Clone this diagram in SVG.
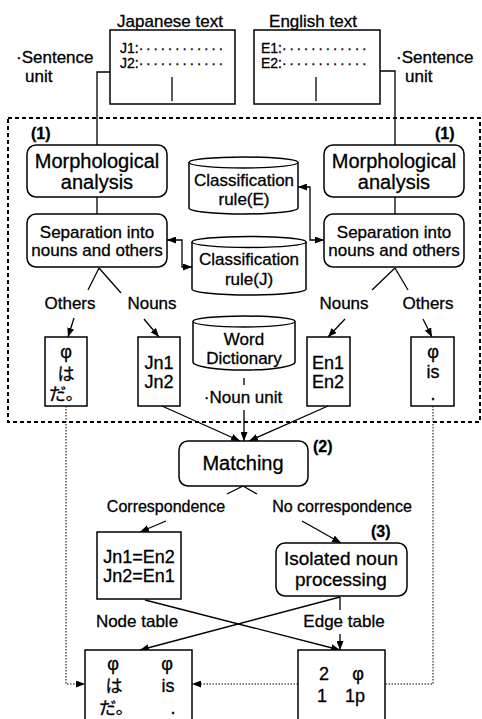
<svg xmlns="http://www.w3.org/2000/svg" width="482" height="719" viewBox="0 0 482 719">
<style>
text{font-family:"Liberation Sans",Arial,"Noto Sans CJK JP",sans-serif;fill:#000;stroke:#000;stroke-width:0.3}
.t17{font-size:17px}
.t18{font-size:18px}
.t20{font-size:20px}
.t19{font-size:19px}
.t16{font-size:16px}
.t14{font-size:14px}
.b{font-weight:bold;font-size:16px}
.c{text-anchor:middle}
.box{fill:#fff;stroke:#000;stroke-width:1.5}
.ln{fill:none;stroke:#000;stroke-width:1.3}
.dot{fill:none;stroke:#000;stroke-width:1;stroke-dasharray:1.5 1.5}
.dash{fill:none;stroke:#000;stroke-width:2;stroke-dasharray:4 3}
</style>
<defs>
<marker id="ah" markerUnits="userSpaceOnUse" markerWidth="9" markerHeight="7" refX="9" refY="3.5" orient="auto-start-reverse">
<path d="M0,0 L9,3.5 L0,7 z" fill="#000"/>
</marker>
</defs>

<rect class="dash" x="8" y="118" width="472" height="304"/>

<g id="connectors">
<polyline class="ln" points="110,72 97,72 97,145"/>
<polyline class="ln" points="380,71 395,71 395,145"/>
<line class="ln" x1="97" y1="197" x2="97" y2="214"/>
<line class="ln" x1="395" y1="197" x2="395" y2="214"/>
<polyline class="ln" points="167,240 182,240 182,267 192,267" marker-start="url(#ah)" marker-end="url(#ah)"/>
<polyline class="ln" points="298,187 310,187 310,240 324,240" marker-start="url(#ah)" marker-end="url(#ah)"/>
<line class="ln" x1="99" y1="268" x2="88" y2="290"/>
<line class="ln" x1="99" y1="268" x2="121" y2="293"/>
<line class="ln" x1="395" y1="268" x2="372" y2="290"/>
<line class="ln" x1="395" y1="268" x2="408" y2="290"/>
<line class="ln" x1="74" y1="318" x2="68" y2="337" marker-end="url(#ah)"/>
<line class="ln" x1="144" y1="319" x2="159" y2="337" marker-end="url(#ah)"/>
<line class="ln" x1="345" y1="319" x2="328" y2="337" marker-end="url(#ah)"/>
<line class="ln" x1="423" y1="319" x2="432" y2="337" marker-end="url(#ah)"/>
<line class="ln" x1="244" y1="378" x2="244" y2="385"/>
<line class="ln" x1="244" y1="410" x2="244" y2="441" marker-end="url(#ah)"/>
<line class="ln" x1="162" y1="406" x2="240" y2="441" marker-end="url(#ah)"/>
<line class="ln" x1="328" y1="406" x2="249" y2="441" marker-end="url(#ah)"/>
<line class="ln" x1="243" y1="486" x2="227" y2="494"/>
<line class="ln" x1="243" y1="486" x2="257" y2="494"/>
<line class="ln" x1="166" y1="521" x2="140" y2="532" marker-end="url(#ah)"/>
<line class="ln" x1="302" y1="521" x2="341" y2="543" marker-end="url(#ah)"/>
<line class="ln" x1="145" y1="600" x2="340" y2="650" marker-end="url(#ah)"/>
<line class="ln" x1="340" y1="597" x2="140" y2="650" marker-end="url(#ah)"/>
<line class="ln" x1="340" y1="597" x2="340" y2="610"/>
<line class="ln" x1="340" y1="634" x2="340" y2="650" marker-end="url(#ah)"/>
<polyline class="dot" points="66,406 66,684 85,684" marker-end="url(#ah)"/>
<polyline class="dot" points="433,406 433,684 385,684"/>
<line class="dot" x1="298" y1="684" x2="192" y2="684" marker-end="url(#ah)"/>
</g>

<g id="japanese-text">
<text class="t17 c" x="170" y="27">Japanese text</text>
<rect class="box" x="110" y="30" width="125" height="74"/>
<text class="t14" x="120" y="53">J1:<tspan letter-spacing="2.6">············</tspan></text>
<text class="t14" x="120" y="68">J2:<tspan letter-spacing="2.6">············</tspan></text>
<line class="ln" x1="172" y1="77" x2="172" y2="101"/>
</g>

<g id="english-text">
<text class="t17 c" x="313" y="27">English text</text>
<rect class="box" x="254" y="30" width="126" height="74"/>
<text class="t14" x="261" y="53">E1:<tspan letter-spacing="2.6">············</tspan></text>
<text class="t14" x="261" y="68">E2:<tspan letter-spacing="2.6">············</tspan></text>
<line class="ln" x1="316" y1="77" x2="316" y2="101"/>
</g>

<g id="sentence-unit-left">
<text class="t17" x="16" y="63">·Sentence</text>
<text class="t17" x="25" y="82">unit</text>
</g>
<g id="sentence-unit-right">
<text class="t17" x="396" y="63">·Sentence</text>
<text class="t17" x="405" y="82">unit</text>
</g>

<g id="label-1-left"><text class="b" x="31" y="139">(1)</text></g>
<g id="label-1-right"><text class="b" x="435" y="139">(1)</text></g>

<g id="morph-left">
<rect class="box" x="27" y="145" width="140" height="52" rx="9"/>
<text class="t20 c" x="97" y="168">Morphological</text>
<text class="t20 c" x="97" y="189">analysis</text>
</g>
<g id="morph-right">
<rect class="box" x="324" y="145" width="140" height="52" rx="9"/>
<text class="t20 c" x="394" y="168">Morphological</text>
<text class="t20 c" x="394" y="189">analysis</text>
</g>

<g id="sep-left">
<rect class="box" x="27" y="214" width="140" height="53" rx="9"/>
<text class="t17 c" x="97" y="238">Separation into</text>
<text class="t17 c" x="97" y="256">nouns and others</text>
</g>
<g id="sep-right">
<rect class="box" x="324" y="214" width="140" height="53" rx="9"/>
<text class="t17 c" x="394" y="238">Separation into</text>
<text class="t17 c" x="394" y="256">nouns and others</text>
</g>

<g id="rule-e">
<path class="box" d="M189,162.5 L189,208 A54.5,6 0 0 0 298,208 L298,162.5 A54.5,5.5 0 0 0 189,162.5 Z"/>
<path class="ln" d="M189,162.5 A54.5,5.5 0 0 0 298,162.5"/>
<text class="t17 c" x="244" y="186">Classification</text>
<text class="t17 c" x="244" y="205">rule(E)</text>
</g>
<g id="rule-j">
<path class="box" d="M192,242 L192,289 A57,6 0 0 0 306,289 L306,242 A57,5.5 0 0 0 192,242 Z"/>
<path class="ln" d="M192,242 A57,5.5 0 0 0 306,242"/>
<text class="t17 c" x="249" y="265">Classification</text>
<text class="t17 c" x="249" y="285">rule(J)</text>
</g>
<g id="word-dictionary">
<path class="box" d="M193,321.5 L193,362 A51,8 0 0 0 295,362 L295,321.5 A51,5.5 0 0 0 193,321.5 Z"/>
<path class="ln" d="M193,321.5 A51,5.5 0 0 0 295,321.5"/>
<text class="t17 c" x="244" y="345">Word</text>
<text class="t17 c" x="244" y="364">Dictionary</text>
</g>

<g id="labels-split">
<text class="t17 c" x="70" y="309">Others</text>
<text class="t17 c" x="152" y="309">Nouns</text>
<text class="t17 c" x="344" y="309">Nouns</text>
<text class="t17 c" x="428" y="309">Others</text>
</g>

<g id="others-j">
<rect class="box" x="45" y="337" width="42" height="69"/>
<text class="t18 c" x="66" y="358">φ</text>
<text class="t17 c" x="66" y="380">は</text>
<text class="t17 c" x="66" y="400">だ。</text>
</g>
<g id="nouns-j">
<rect class="box" x="138" y="337" width="42" height="69"/>
<text class="t18 c" x="159" y="369">Jn1</text>
<text class="t18 c" x="159" y="388">Jn2</text>
</g>
<g id="nouns-e">
<rect class="box" x="307" y="337" width="43" height="69"/>
<text class="t18 c" x="328" y="369">En1</text>
<text class="t18 c" x="328" y="388">En2</text>
</g>
<g id="others-e">
<rect class="box" x="411" y="337" width="43" height="69"/>
<text class="t18 c" x="433" y="358">φ</text>
<text class="t18 c" x="433" y="378">is</text>
<text class="t18 c" x="433" y="400">.</text>
</g>

<g id="noun-unit"><text class="t17 c" x="243" y="403">·Noun unit</text></g>

<g id="matching">
<rect class="box" x="179" y="441" width="129" height="45" rx="9"/>
<text class="t20 c" x="243" y="470">Matching</text>
</g>
<g id="label-2"><text class="b" x="313" y="452">(2)</text></g>

<g id="labels-corr">
<text class="t16 c" x="166" y="512">Correspondence</text>
<text class="t16 c" x="342" y="512">No correspondence</text>
</g>

<g id="correspondence-box">
<rect class="box" x="97" y="532" width="84" height="67"/>
<text class="t18 c" x="139" y="563">Jn1=En2</text>
<text class="t18 c" x="139" y="582">Jn2=En1</text>
</g>

<g id="label-3"><text class="b" x="371" y="537">(3)</text></g>
<g id="isolated">
<rect class="box" x="276" y="543" width="131" height="53" rx="9"/>
<text class="t19 c" x="341" y="565">Isolated noun</text>
<text class="t19 c" x="341" y="586">processing</text>
</g>

<g id="labels-tables">
<text class="t17 c" x="137" y="627">Node table</text>
<text class="t17 c" x="344" y="627">Edge table</text>
</g>

<g id="node-table">
<rect class="box" x="85" y="650" width="107" height="80"/>
<text class="t18 c" x="113" y="670">φ</text>
<text class="t17 c" x="114" y="692">は</text>
<text class="t17 c" x="116" y="714">だ。</text>
<text class="t18 c" x="167" y="670">φ</text>
<text class="t18 c" x="168" y="692">is</text>
<text class="t18 c" x="173" y="714">.</text>
</g>
<g id="edge-table">
<rect class="box" x="298" y="650" width="87" height="80"/>
<text class="t18 c" x="324" y="680">2</text>
<text class="t18 c" x="358" y="680">φ</text>
<text class="t18 c" x="322" y="702">1</text>
<text class="t18 c" x="355" y="702">1p</text>
</g>
</svg>
